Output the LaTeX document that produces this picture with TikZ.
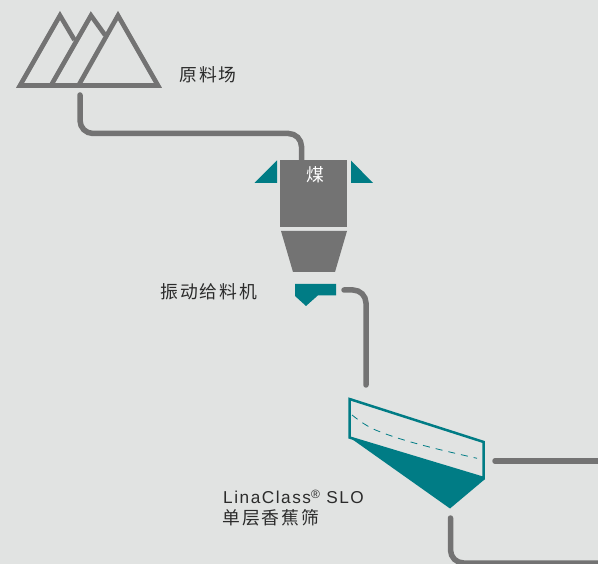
\documentclass[tikz,border=0pt]{standalone}
\usepackage{fontspec}
\setmainfont{Liberation Sans}
\newfontfamily\cjkf[LetterSpace=10]{Noto Sans CJK SC}
\newfontfamily\latf[LetterSpace=9]{Liberation Sans}
\definecolor{bgc}{HTML}{E1E3E2}
\definecolor{grayc}{HTML}{737373}
\definecolor{tealc}{HTML}{007C85}
\definecolor{textc}{HTML}{2B2B2B}
\tikzset{
 x=1pt,y=-1pt,
 pipe/.style={draw=grayc,line width=5.5pt,line cap=round,rounded corners=13pt},
 pile/.style={draw=grayc,line width=4.6pt,line join=miter},
 solidgray/.style={fill=grayc,draw=none},
 solidteal/.style={fill=tealc,draw=none},
 lbl/.style={inner sep=0pt,text=textc,font=\fontsize{17.8}{20}\selectfont\cjkf,anchor=west},
 lat/.style={inner sep=0pt,text=textc,font=\fontsize{17.2}{20}\selectfont\latf,anchor=west},
}
\begin{document}
\begin{tikzpicture}
\useasboundingbox (0,0) rectangle (598,564);
\clip (0,0) rectangle (598,564);
\fill[bgc] (0,0) rectangle (598,564);
% pile
\draw[pile] (74.5,40) -- (60,15.5) -- (20,85.5) -- (158,85.5) -- (118,15.5) -- (78.5,85.5);
\draw[pile] (105,35) -- (91,15.5) -- (51,85.5);
% coordinates for connectors
\coordinate (pileout) at (80,95);
\coordinate (siloin) at (301.5,160);
\coordinate (feedout) at (344,290);
\coordinate (screenin) at (366,385);
\coordinate (overout) at (495,461);
\coordinate (overend) at (604,461);
\coordinate (underout) at (450.5,518);
\coordinate (underend) at (604,563);
% silo
\fill[solidgray] (280,160) rectangle (347,227);
\path[solidgray] (281,231) -- (347,231) -- (335,272) -- (293,272) -- cycle;
\path[solidteal] (277,160.5) -- (277,183) -- (254.5,183) -- cycle;
\path[solidteal] (351,160.5) -- (351,183) -- (373,183) -- cycle;
% feeder
\path[solidteal] (295,284) -- (336,284) -- (336,295.3) -- (318,295.3) -- (306,306) -- (295,296) -- cycle;
% screen
\path[solidteal] (349,437) -- (484.5,478) -- (484.5,479.5) -- (450,508.5) -- cycle;
\draw[tealc,line width=2.5pt,line join=miter] (349.5,399) -- (483.7,442) -- (483.7,478) -- (349.5,437.5) -- cycle;
\draw[tealc,line width=0.8pt,dash pattern=on 7pt off 6pt] (352,415) .. controls (362,423) and (370,428) .. (378,431) .. controls (405,442) and (445,451) .. (477,458.3);
% connectors
\draw[pipe] (pileout) -- (80,133.5) -- (301.5,133.5) -- (siloin);
\draw[pipe] (feedout) -- (366,290) -- (screenin);
\draw[pipe,rounded corners=0pt] (overout) -- (overend);
\draw[pipe] (underout) -- (450.5,563) -- (underend);
% labels
\node[lbl] (n1) at (179.5,75) {原料场};
\node[lbl,text=white,anchor=center] (n2) at (315.5,174.5) {煤};
\node[lbl] (n3) at (160.5,292) {振动给料机};
\node[lat] (n4) at (223,497) {LinaClass\raisebox{4.5pt}{\fontsize{12}{12}\selectfont ®} SLO};
\node[lbl] (n5) at (222.5,517.5) {单层香蕉筛};
\end{tikzpicture}
\end{document}
